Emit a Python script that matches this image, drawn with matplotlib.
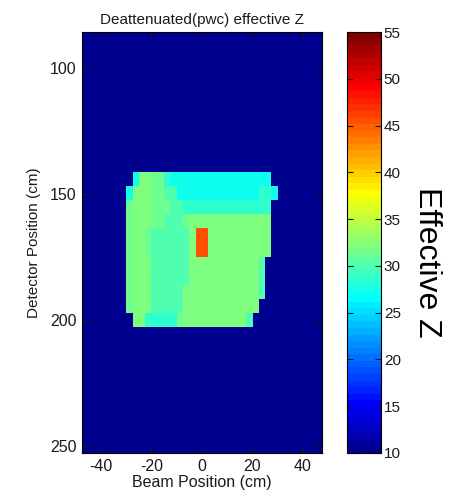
import numpy as np
import matplotlib
matplotlib.use("Agg")
import matplotlib.pyplot as plt
from matplotlib.colors import ListedColormap

plt.rcParams["font.family"] = ["Liberation Sans", "DejaVu Sans"]
plt.rcParams["axes.unicode_minus"] = False

# effective Z levels used in the map
level_z = {
    "B": 10.0,   # background / no material
    "C": 27.5,   # cyan
    "A": 28.5,   # aqua
    "T": 30.0,   # teal green
    "L": 31.2,   # pale green
    "G": 32.3,   # green
    "O": 45.5,   # orange insert
}

# object pixels: detector rows 10..20, beam columns 7..30 (x = -30..30 cm)
object_rows = [
    "BCGGLLACCCCCCCCCCCCCCCCB",
    "CGGGLLTTCCCCCCCCCCCCCAAC",
    "LGGGLLLTTAAAAAAAAAAAAAAB",
    "LGGGLLTTTLGGGGGGGGGGGGGB",
    "LGGLTTTTTTGOOGGGGGGGGGGB",
    "LGGLTTTTTTGOOGGGGGGGGGGB",
    "LGGGTTTTTTGGGGGGGGGGGTBB",
    "LGGGTTTTTTGGGGGGGGGGGTBB",
    "LGGGTTTTTGGGGGGGGGGGGTBB",
    "LGGGTTTTTGGGGGGGGGGGGBBB",
    "BGGAAAAALGGGGGGGGGGTBBBB",
]
n_rows, n_cols = 30, 38
row0, col0 = 10, 7
x_extent = (-47.5, 47.5)
y_extent = (252.8, 85.7)

x_ticks = [-40, -20, 0, 20, 40]
y_ticks = [100, 150, 200, 250]
cbar_ticks = list(range(10, 60, 5))
z_min, z_max = 10, 55


def matlab_jet(m=64):
    n = int(np.ceil(m / 4))
    u = np.concatenate([np.arange(1, n + 1) / n, np.ones(n - 1), np.arange(n, 0, -1) / n])
    g = int(np.ceil(n / 2)) - (1 if m % 4 == 1 else 0) + np.arange(1, len(u) + 1)
    r = g + n
    b = g - n
    J = np.zeros((m, 3))
    J[r[r <= m] - 1, 0] = u[r <= m]
    J[g[g <= m] - 1, 1] = u[g <= m]
    J[b[b >= 1] - 1, 2] = u[b >= 1]
    return ListedColormap(J)


grid = np.full((n_rows, n_cols), level_z["B"])
for i, row in enumerate(object_rows):
    for j, ch in enumerate(row):
        grid[row0 + i, col0 + j] = level_z[ch]

W, H = 456, 499
fig = plt.figure(figsize=(W / 100, H / 100), dpi=100)
ax = fig.add_axes([82 / W, 46 / H, 240 / W, 421 / H])
im = ax.imshow(grid, cmap=matlab_jet(64), vmin=z_min, vmax=z_max,
               extent=[x_extent[0], x_extent[1], y_extent[0], y_extent[1]],
               aspect="auto", interpolation="nearest")
ax.set_xticks(x_ticks)
ax.set_yticks(y_ticks)
ax.tick_params(direction="in", top=True, right=True, length=4, labelsize=11.5,
               pad=4, colors="#1a1a1a")
ax.set_xlabel("Beam Position (cm)", fontsize=11.5, labelpad=1, color="#1a1a1a")
ax.set_ylabel("Detector Position (cm)", fontsize=11, labelpad=6, color="#1a1a1a")
ax.set_title("Deattenuated(pwc) effective Z", fontsize=11, pad=6, color="#1a1a1a")

cax = fig.add_axes([347 / W, 46 / H, 34 / W, 421 / H])
cb = fig.colorbar(im, cax=cax, ticks=cbar_ticks)
cax.tick_params(direction="in", left=True, right=True, length=4, labelsize=11,
                pad=2, colors="#1a1a1a")
cb.outline.set_linewidth(0.8)
cb.set_label("Effective Z", rotation=-90, fontsize=23, labelpad=30)
cax.yaxis.label.set_y(0.4525)

fig.savefig("out.png", dpi=100)
